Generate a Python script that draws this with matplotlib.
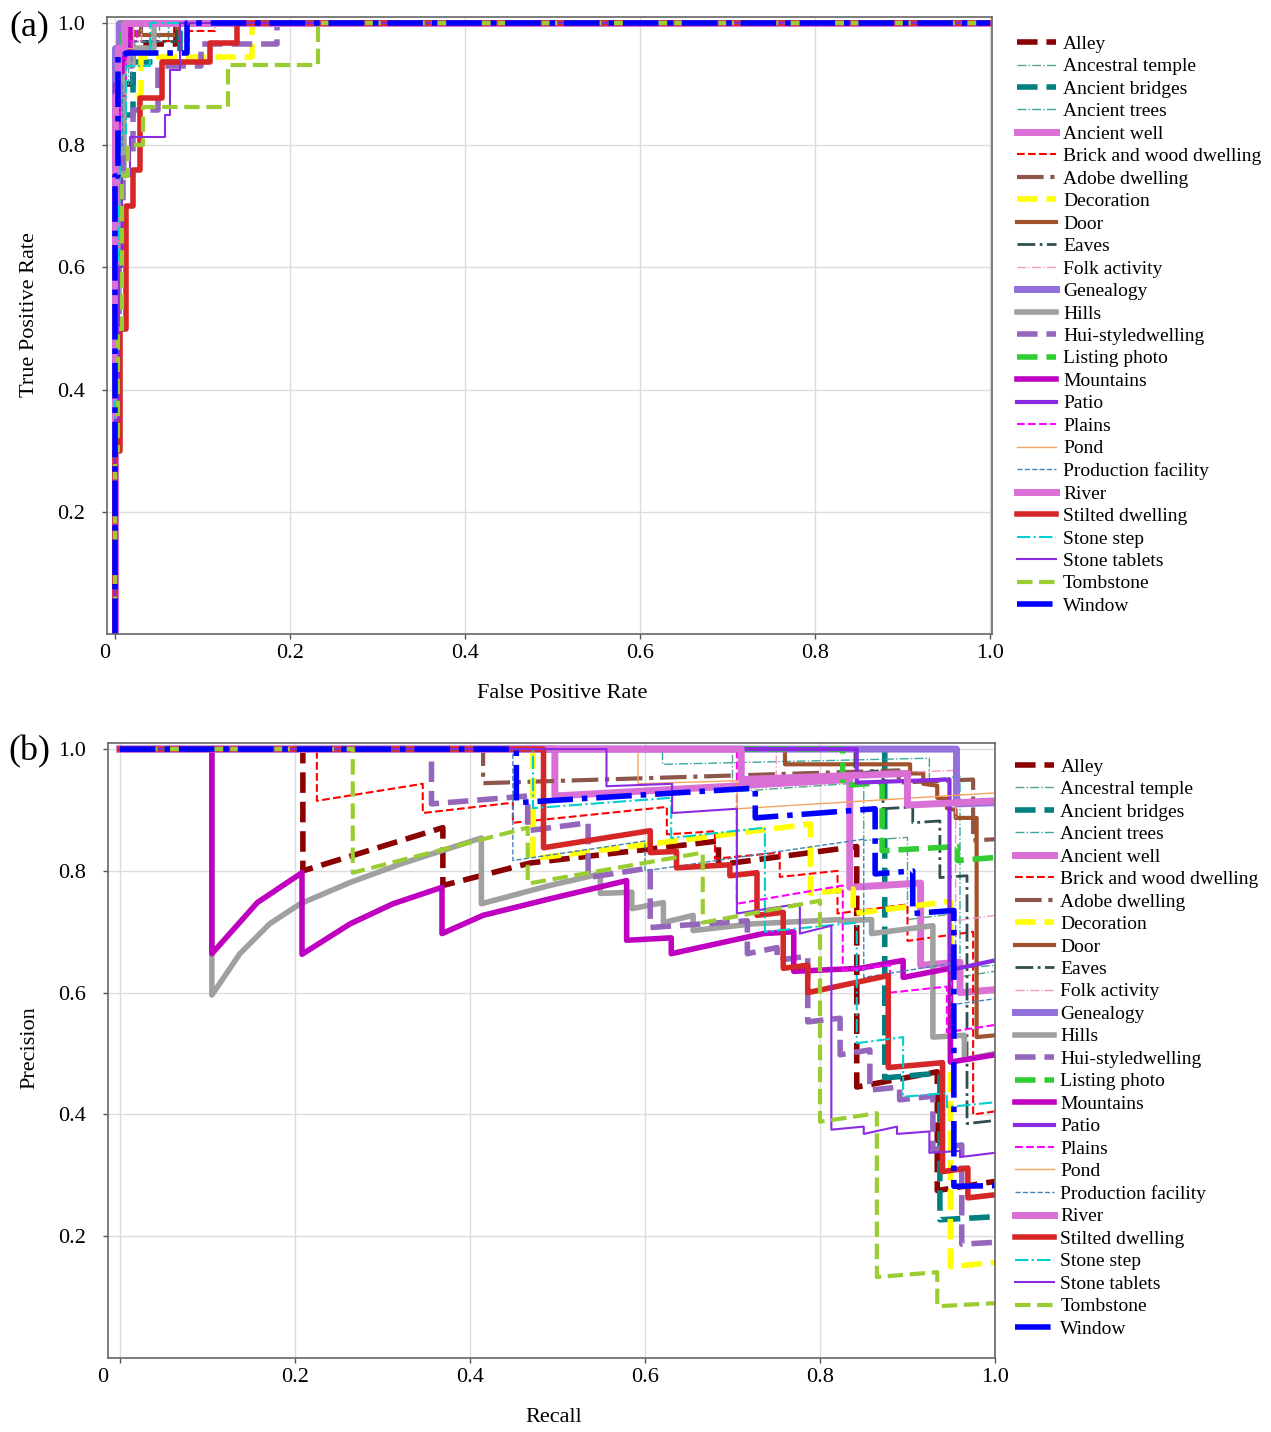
import matplotlib
matplotlib.use("Agg")
from matplotlib import pyplot as plt
import matplotlib.transforms as mtransforms

plt.rcParams['font.family'] = ['Liberation Serif', 'DejaVu Serif']

classes = ['Alley', 'Ancestral temple', 'Ancient bridges', 'Ancient trees', 'Ancient well',
           'Brick and wood dwelling', 'Adobe dwelling', 'Decoration', 'Door', 'Eaves',
           'Folk activity', 'Genealogy', 'Hills', 'Hui-styledwelling', 'Listing photo',
           'Mountains', 'Patio', 'Plains', 'Pond', 'Production facility', 'River',
           'Stilted dwelling', 'Stone step', 'Stone tablets', 'Tombstone', 'Window']

colors = ['#8B0000', '#52a38a', '#008080', '#3aa8a0', '#DA70D6',
          '#FF0000', '#8C564B', '#FFFF00', '#A0522D', '#2F4F4F',
          '#F49AC2', '#9370DB', '#A0A0A0', '#9467BD', '#32CD32',
          '#C000C0', '#8A2BE2', '#FF00FF', '#F4A460', '#4682B4', '#DA70D6',
          '#D62728', '#00CED1', '#8A2BE2', '#9ACD32', '#0000FF']
styles = ['--', '-.', '--', '-.', '-',
          '--', '-.', '--', '-', '-.',
          '-.', '-', '-', '--', '--',
          '-', '-', '--', '-', '--', '-',
          '-', '-.', '-', '--', '-.']
widths = [4, 1, 4, 1, 5,
          1.5, 3, 4, 3, 2,
          1, 5, 4, 4, 4,
          4, 3, 1.5, 1, 1, 5,
          4, 1.5, 1.5, 3, 4]

# ROC curves (a)
roc_fpr = {
    'Alley': [0, 0, 0.005, 0.005, 0.02, 0.02, 0.07, 0.07, 1],
    'Ancestral temple': [0, 0, 0.005, 0.005, 0.02, 0.02, 0.06, 0.06, 1],
    'Ancient bridges': [0, 0, 0.006, 0.006, 0.02, 0.02, 0.074, 0.074, 1],
    'Ancient trees': [0, 0, 0.004, 0.004, 0.015, 0.015, 0.06, 0.06, 1],
    'Ancient well': [0, 0, 0.003, 0.003, 0.008, 0.008, 0.015, 0.015, 1],
    'Brick and wood dwelling': [0, 0, 0.004, 0.004, 0.012, 0.012, 0.085, 0.085, 0.114, 0.114, 1],
    'Adobe dwelling': [0, 0, 0.003, 0.003, 0.01, 0.01, 0.03, 0.03, 1],
    'Decoration': [0, 0, 0.005, 0.005, 0.03, 0.03, 0.156, 0.156, 1],
    'Door': [0, 0, 0.004, 0.004, 0.01, 0.01, 0.071, 0.071, 1],
    'Eaves': [0, 0, 0.004, 0.004, 0.01, 0.01, 0.07, 0.07, 1],
    'Folk activity': [0, 0, 0.004, 0.004, 0.03, 0.03, 1],
    'Genealogy': [0, 0, 0.005, 0.005, 1],
    'Hills': [0, 0, 0.004, 0.004, 0.01, 0.01, 0.02, 0.02, 0.045, 0.045, 1],
    'Hui-styledwelling': [0, 0, 0.004, 0.004, 0.009, 0.009, 0.02, 0.02, 0.049, 0.049, 0.098, 0.098,
                          0.185, 0.185, 1],
    'Listing photo': [0, 0, 0.004, 0.004, 0.009, 0.009, 1],
    'Mountains': [0, 0, 0.003, 0.003, 0.008, 0.008, 0.018, 0.018, 1],
    'Patio': [0, 0, 0.004, 0.004, 0.012, 0.012, 1],
    'Plains': [0, 0, 0.002, 0.002, 0.006, 0.006, 0.013, 0.013, 0.025, 0.025, 1],
    'Pond': [0, 0, 0.003, 0.003, 0.02, 0.02, 1],
    'Production facility': [0, 0, 0.003, 0.003, 0.008, 0.008, 0.018, 0.018, 0.05, 0.05, 1],
    'River': [0, 0, 0.003, 0.003, 0.01, 0.01, 1],
    'Stilted dwelling': [0, 0, 0.006, 0.006, 0.012, 0.012, 0.02, 0.02, 0.029, 0.029, 0.054, 0.054,
                         0.109, 0.109, 0.139, 0.139, 1],
    'Stone step': [0, 0, 0.003, 0.003, 0.006, 0.006, 0.012, 0.012, 0.04, 0.04, 1],
    'Stone tablets': [0, 0, 0.004, 0.004, 0.008, 0.008, 0.017, 0.017, 0.057, 0.057, 0.063, 0.063,
                      0.074, 0.074, 1],
    'Tombstone': [0, 0, 0.003, 0.003, 0.008, 0.008, 0.015, 0.015, 0.032, 0.032, 0.129, 0.129,
                  0.232, 0.232, 1],
    'Window': [0, 0, 0.003, 0.003, 0.013, 0.013, 0.082, 0.082, 1],
}
roc_tpr = {
    'Alley': [0, 0.75, 0.75, 0.9, 0.9, 0.965, 0.965, 1, 1],
    'Ancestral temple': [0, 0.8, 0.8, 0.93, 0.93, 0.98, 0.98, 1, 1],
    'Ancient bridges': [0, 0.7, 0.7, 0.85, 0.85, 0.936, 0.936, 1, 1],
    'Ancient trees': [0, 0.75, 0.75, 0.9, 0.9, 0.97, 0.97, 1, 1],
    'Ancient well': [0, 0.6, 0.6, 0.85, 0.85, 0.94, 0.94, 1, 1],
    'Brick and wood dwelling': [0, 0.6, 0.6, 0.9, 0.9, 0.97, 0.97, 0.987, 0.987, 1, 1],
    'Adobe dwelling': [0, 0.8, 0.8, 0.96, 0.96, 0.985, 0.985, 1, 1],
    'Decoration': [0, 0.7, 0.7, 0.88, 0.88, 0.944, 0.944, 1, 1],
    'Door': [0, 0.85, 0.85, 0.95, 0.95, 0.98, 0.98, 1, 1],
    'Eaves': [0, 0.8, 0.8, 0.93, 0.93, 0.97, 0.97, 1, 1],
    'Folk activity': [0, 0.85, 0.85, 0.97, 0.97, 1, 1],
    'Genealogy': [0, 0.96, 0.96, 1, 1],
    'Hills': [0, 0.55, 0.55, 0.75, 0.75, 0.93, 0.93, 0.96, 0.96, 1, 1],
    'Hui-styledwelling': [0, 0.45, 0.45, 0.62, 0.62, 0.78, 0.78, 0.857, 0.857, 0.93, 0.93, 0.965,
                          0.965, 1, 1],
    'Listing photo': [0, 0.85, 0.85, 0.95, 0.95, 1, 1],
    'Mountains': [0, 0.8, 0.8, 0.92, 0.92, 0.96, 0.96, 1, 1],
    'Patio': [0, 0.9, 0.9, 0.95, 0.95, 1, 1],
    'Plains': [0, 0.45, 0.45, 0.75, 0.75, 0.88, 0.88, 0.97, 0.97, 1, 1],
    'Pond': [0, 0.9, 0.9, 0.96, 0.96, 1, 1],
    'Production facility': [0, 0.5, 0.5, 0.8, 0.8, 0.9, 0.9, 0.97, 0.97, 1, 1],
    'River': [0, 0.88, 0.88, 0.96, 0.96, 1, 1],
    'Stilted dwelling': [0, 0.3, 0.3, 0.5, 0.5, 0.7, 0.7, 0.76, 0.76, 0.877, 0.877, 0.936,
                         0.936, 0.967, 0.967, 1, 1],
    'Stone step': [0, 0.4, 0.4, 0.7, 0.7, 0.82, 0.82, 0.93, 0.93, 1, 1],
    'Stone tablets': [0, 0.35, 0.35, 0.6, 0.6, 0.75, 0.75, 0.813, 0.813, 0.85, 0.85, 0.923, 0.923,
                      1, 1],
    'Tombstone': [0, 0.3, 0.3, 0.5, 0.5, 0.75, 0.75, 0.8, 0.8, 0.862, 0.862, 0.931, 0.931, 1, 1],
    'Window': [0, 0.75, 0.75, 0.95, 0.95, 0.951, 0.951, 1, 1],
}

# precision-recall curves (b)
pr_recall = {
    'Alley': [0, 0.209, 0.209, 0.369, 0.369, 0.469, 0.684, 0.684, 0.842, 0.842, 0.934, 0.934, 1.0],
    'Ancestral temple': [0, 0.70, 0.70, 0.85, 0.85, 0.90, 0.90, 0.955, 0.955, 1.0],
    'Ancient bridges': [0, 0.874, 0.874, 0.937, 0.937, 1.0],
    'Ancient trees': [0, 0.62, 0.62, 0.925, 0.925, 0.96, 0.96, 1.0],
    'Ancient well': [0, 0.497, 0.497, 0.834, 0.834, 0.915, 0.915, 0.96, 0.96, 1.0],
    'Brick and wood dwelling': [0, 0.225, 0.225, 0.346, 0.346, 0.449, 0.449, 0.625, 0.625, 0.68, 0.68,
                                0.754, 0.754, 0.82, 0.82, 0.90, 0.90, 0.975, 0.975, 1.0],
    'Adobe dwelling': [0, 0.415, 0.415, 0.89, 0.89, 0.975, 0.975, 1.0],
    'Decoration': [0, 0.472, 0.472, 0.789, 0.789, 0.838, 0.838, 0.949, 0.949, 1.0],
    'Door': [0, 0.76, 0.76, 0.903, 0.903, 0.918, 0.918, 0.934, 0.934, 0.945, 0.945, 0.955, 0.955,
             0.979, 0.979, 1.0],
    'Eaves': [0, 0.84, 0.84, 0.872, 0.872, 0.906, 0.906, 0.937, 0.937, 0.968, 0.968, 1.0],
    'Folk activity': [0, 0.75, 0.75, 0.955, 0.955, 1.0],
    'Genealogy': [0, 0.956, 0.956, 1.0],
    'Hills': [0, 0.105, 0.105, 0.137, 0.171, 0.206, 0.263, 0.32, 0.413, 0.413, 0.491, 0.549, 0.549,
              0.585, 0.585, 0.621, 0.621, 0.655, 0.655, 0.723, 0.823, 0.823, 0.859, 0.859, 0.929,
              0.929, 0.965, 0.965, 1.0],
    'Hui-styledwelling': [0, 0.356, 0.356, 0.466, 0.466, 0.535, 0.535, 0.606, 0.606, 0.717, 0.717,
                          0.751, 0.751, 0.786, 0.786, 0.823, 0.823, 0.857, 0.857, 0.891, 0.891,
                          0.929, 0.929, 0.962, 0.962, 1.0],
    'Listing photo': [0, 0.826, 0.826, 0.871, 0.871, 0.957, 0.957, 1.0],
    'Mountains': [0, 0.105, 0.105, 0.157, 0.208, 0.208, 0.263, 0.312, 0.368, 0.368, 0.415, 0.491,
                  0.579, 0.579, 0.63, 0.63, 0.735, 0.77, 0.77, 0.846, 0.895, 0.895, 0.949, 0.949, 1.0],
    'Patio': [0, 0.842, 0.842, 0.948, 0.948, 1.0],
    'Plains': [0, 0.705, 0.705, 0.826, 0.826, 0.88, 0.88, 0.945, 0.945, 1.0],
    'Pond': [0, 0.592, 0.592, 0.705, 0.705, 1.0],
    'Production facility': [0, 0.449, 0.449, 0.60, 0.60, 0.85, 0.85, 0.95, 0.95, 1.0],
    'River': [0, 0.71, 0.71, 0.90, 0.90, 1.0],
    'Stilted dwelling': [0, 0.484, 0.484, 0.606, 0.606, 0.636, 0.636, 0.697, 0.697, 0.728, 0.728,
                         0.758, 0.758, 0.786, 0.786, 0.878, 0.878, 0.94, 0.94, 0.969, 0.969, 1.0],
    'Stone step': [0, 0.472, 0.472, 0.63, 0.63, 0.737, 0.737, 0.842, 0.842, 0.895, 0.895, 0.945,
                   0.945, 1.0],
    'Stone tablets': [0, 0.556, 0.556, 0.631, 0.631, 0.705, 0.705, 0.777, 0.777, 0.813, 0.813, 0.85,
                      0.85, 0.888, 0.888, 0.925, 0.925, 0.96, 0.96, 1.0],
    'Tombstone': [0, 0.266, 0.266, 0.466, 0.466, 0.666, 0.666, 0.80, 0.80, 0.865, 0.865, 0.934,
                  0.934, 1.0],
    'Window': [0, 0.453, 0.453, 0.726, 0.726, 0.863, 0.863, 0.906, 0.906, 0.953, 0.953, 1.0],
}
pr_precision = {
    'Alley': [1, 1, 0.80, 0.871, 0.776, 0.813, 0.849, 0.81, 0.84, 0.445, 0.47, 0.275, 0.29],
    'Ancestral temple': [1, 1, 0.93, 0.945, 0.85, 0.855, 0.72, 0.73, 0.625, 0.635],
    'Ancient bridges': [1, 1, 0.46, 0.468, 0.227, 0.232],
    'Ancient trees': [1, 1, 0.975, 0.985, 0.95, 0.955, 0.64, 0.645],
    'Ancient well': [1, 1, 0.923, 0.95, 0.773, 0.78, 0.645, 0.65, 0.60, 0.605],
    'Brick and wood dwelling': [1, 1, 0.915, 0.943, 0.895, 0.912, 0.879, 0.905, 0.86, 0.865, 0.82,
                                0.83, 0.79, 0.80, 0.73, 0.745, 0.685, 0.70, 0.40, 0.405],
    'Adobe dwelling': [1, 1, 0.944, 0.965, 0.945, 0.95, 0.85, 0.852],
    'Decoration': [1, 1, 0.82, 0.877, 0.763, 0.77, 0.73, 0.75, 0.15, 0.157],
    'Door': [1, 1, 0.975, 0.975, 0.96, 0.96, 0.943, 0.94, 0.92, 0.918, 0.903, 0.90, 0.887, 0.887,
             0.527, 0.53],
    'Eaves': [1, 1, 0.96, 0.965, 0.902, 0.905, 0.879, 0.882, 0.789, 0.792, 0.385, 0.39],
    'Folk activity': [1, 1, 0.955, 0.965, 0.718, 0.727],
    'Genealogy': [1, 1, 0.91, 0.912],
    'Hills': [1, 1, 0.596, 0.664, 0.713, 0.746, 0.781, 0.811, 0.854, 0.746, 0.776, 0.795, 0.763,
              0.765, 0.738, 0.748, 0.715, 0.727, 0.702, 0.713, 0.72, 0.718, 0.72, 0.697, 0.71,
              0.527, 0.53, 0.49, 0.50],
    'Hui-styledwelling': [1, 1, 0.91, 0.923, 0.866, 0.879, 0.789, 0.805, 0.707, 0.718, 0.664, 0.674,
                          0.653, 0.66, 0.552, 0.558, 0.498, 0.506, 0.44, 0.445, 0.424, 0.43,
                          0.342, 0.35, 0.187, 0.19],
    'Listing photo': [1, 1, 0.94, 0.945, 0.833, 0.84, 0.817, 0.822],
    'Mountains': [1, 1, 0.664, 0.748, 0.797, 0.663, 0.713, 0.746, 0.773, 0.697, 0.727, 0.754,
                  0.784, 0.686, 0.69, 0.664, 0.697, 0.70, 0.635, 0.64, 0.653, 0.625, 0.64, 0.486, 0.498],
    'Patio': [1, 1, 0.945, 0.95, 0.637, 0.653],
    'Plains': [1, 1, 0.746, 0.776, 0.637, 0.645, 0.60, 0.61, 0.535, 0.547],
    'Pond': [1, 1, 0.943, 0.948, 0.902, 0.928],
    'Production facility': [1, 1, 0.817, 0.849, 0.80, 0.852, 0.625, 0.648, 0.58, 0.59],
    'River': [1, 1, 0.95, 0.96, 0.908, 0.915],
    'Stilted dwelling': [1, 1, 0.838, 0.866, 0.83, 0.832, 0.805, 0.81, 0.792, 0.797, 0.727, 0.732,
                         0.64, 0.645, 0.60, 0.628, 0.477, 0.485, 0.306, 0.312, 0.263, 0.268],
    'Stone step': [1, 1, 0.903, 0.92, 0.854, 0.871, 0.70, 0.715, 0.517, 0.527, 0.429, 0.435,
                   0.412, 0.42],
    'Stone tablets': [1, 1, 0.939, 0.943, 0.895, 0.902, 0.73, 0.746, 0.697, 0.71, 0.375, 0.38,
                      0.368, 0.38, 0.368, 0.372, 0.337, 0.34, 0.33, 0.337],
    'Tombstone': [1, 1, 0.797, 0.871, 0.779, 0.83, 0.715, 0.751, 0.388, 0.402, 0.133, 0.141,
                  0.085, 0.09],
    'Window': [1, 1, 0.912, 0.936, 0.887, 0.902, 0.795, 0.80, 0.73, 0.735, 0.282, 0.283],
}

tick_vals = [0, 0.2, 0.4, 0.6, 0.8, 1.0]
tick_labels = ['0', '0.2', '0.4', '0.6', '0.8', '1.0']

fig = plt.figure(figsize=(12.71, 14.32), dpi=100)
ax1 = fig.add_axes([107 / 1271, 1 - 634 / 1432, 885 / 1271, 617 / 1432])
ax2 = fig.add_axes([108 / 1271, 1 - 1358 / 1432, 887 / 1271, 615 / 1432])

for name, c, ls, lw in zip(classes, colors, styles, widths):
    ax1.plot(roc_fpr[name], roc_tpr[name], color=c, ls=ls, lw=lw, label=name)
    ax2.plot(pr_recall[name], pr_precision[name], color=c, ls=ls, lw=lw, label=name)

ax1.set_xlim(-0.0092, 1.002)
ax1.set_ylim(0, 1.01)
ax2.set_xlim(-0.0137, 1.0)
ax2.set_ylim(0, 1.01)

for ax in (ax1, ax2):
    ax.grid(color='#dcdcdc', lw=1)
    ax.set_axisbelow(True)
    ax.set_xticks(tick_vals)
    ax.set_xticklabels(tick_labels)
    ax.set_yticks(tick_vals[1:])
    ax.set_yticklabels(tick_labels[1:])
    ax.tick_params(labelsize=16, length=3.5, width=1, color='#555555', pad=4)
    ax.tick_params(axis='y', pad=12)
    for s in ax.spines.values():
        s.set_color('#666666')
        s.set_linewidth(1.2)

# the "0" label sits a little left of its grid line in the original
for ax, shift in ((ax1, -10), (ax2, -17)):
    lab = ax.get_xticklabels()[0]
    lab.set_transform(lab.get_transform() + mtransforms.ScaledTranslation(shift / 100, 0, fig.dpi_scale_trans))

ax1.legend(loc='upper left', bbox_to_anchor=(1.02, 0.983), frameon=False, fontsize=14,
           labelspacing=0.25, handlelength=2.0, handletextpad=0.35, borderaxespad=0)
ax2.legend(loc='upper left', bbox_to_anchor=(1.0135, 0.988), frameon=False, fontsize=14,
           labelspacing=0.25, handlelength=2.0, handletextpad=0.35, borderaxespad=0)

fig.text(30 / 1271, 1 - 315 / 1432, 'True Positive Rate', rotation=90, ha='center', va='center', fontsize=16)
fig.text(562 / 1271, 1 - 693 / 1432, 'False Positive Rate', ha='center', va='center', fontsize=16)
fig.text(30 / 1271, 1 - 1048 / 1432, 'Precision', rotation=90, ha='center', va='center', fontsize=16)
fig.text(554 / 1271, 1 - 1418 / 1432, 'Recall', ha='center', va='center', fontsize=16)
fig.text(29 / 1271, 1 - 27 / 1432, '(a)', ha='center', va='center', fontsize=26)
fig.text(29 / 1271, 1 - 752 / 1432, '(b)', ha='center', va='center', fontsize=26)

fig.savefig('out.png', dpi=100)
